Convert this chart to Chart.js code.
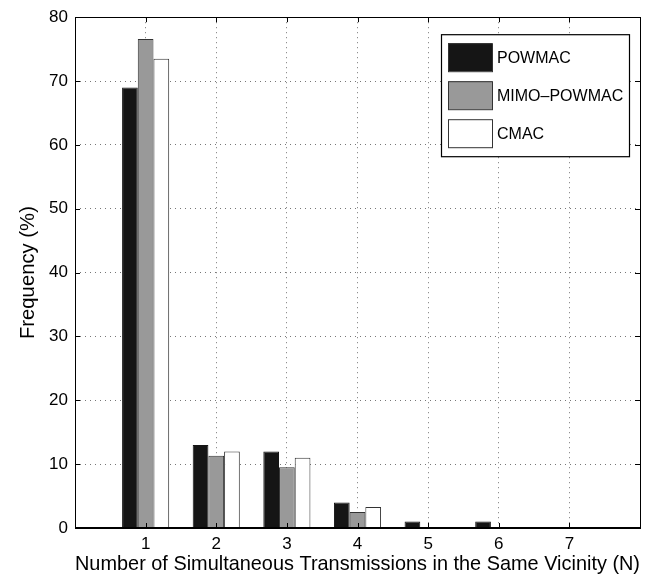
<!DOCTYPE html>
<html>
<head>
<meta charset="utf-8">
<script src="https://cdn.jsdelivr.net/npm/chart.js@4.4.1/dist/chart.umd.min.js"></script>
<style>
  body { margin: 0; background: #fff; }
  #wrap { width: 661px; height: 577px; }
</style>
</head>
<body>
<div id="wrap"><canvas id="myChart" width="661" height="577"></canvas></div>
<script>
// N = number of simultaneous transmissions
var categories = [1, 2, 3, 4, 5, 6, 7];
var powmac     = [69, 13, 12, 4, 1, 1, 0];
var mimoPowmac = [76.6, 11.3, 9.5, 2.5, 0, 0, 0];
var cmac       = [73.5, 12, 11, 3.3, 0, 0, 0.1];
var yTicks = [0, 10, 20, 30, 40, 50, 60, 70, 80];

var FONT = '"Liberation Sans", Arial, Helvetica, sans-serif';

function points(values) {
  return categories.map(function(c, i) { return { x: c, y: values[i] }; });
}

// box around the axes + inward tick marks (matlab style)
var boxPlugin = {
  id: 'box',
  afterDatasetsDraw: function(chart) {
    var ctx = chart.ctx, a = chart.chartArea;
    var xs = chart.scales.x, ys = chart.scales.y;
    ctx.save();
    ctx.strokeStyle = '#000';
    ctx.lineWidth = 1;
    ctx.beginPath();
    categories.forEach(function(c) {
      var px = Math.round(xs.getPixelForValue(c)) + 0.5;
      ctx.moveTo(px, a.bottom); ctx.lineTo(px, a.bottom - 5);
      ctx.moveTo(px, a.top); ctx.lineTo(px, a.top + 5);
    });
    yTicks.forEach(function(v) {
      var py = Math.round(ys.getPixelForValue(v)) + 0.5;
      ctx.moveTo(a.left, py); ctx.lineTo(a.left + 5, py);
      ctx.moveTo(a.right, py); ctx.lineTo(a.right - 5, py);
    });
    ctx.stroke();
    ctx.strokeRect(Math.round(a.left) + 0.5, Math.round(a.top) + 0.5,
                   Math.round(a.right - a.left), Math.round(a.bottom - a.top));
    // slightly heavier baseline, like the original
    ctx.beginPath();
    ctx.lineWidth = 2;
    ctx.moveTo(a.left, Math.round(a.bottom));
    ctx.lineTo(a.right, Math.round(a.bottom));
    ctx.stroke();
    ctx.restore();
  }
};

// legend drawn inside the plot, top right
var legendPlugin = {
  id: 'boxLegend',
  afterDraw: function(chart) {
    var ctx = chart.ctx, a = chart.chartArea;
    var x0 = a.right - 199, y0 = a.top + 17, w = 188, h = 122;
    ctx.save();
    ctx.fillStyle = '#fff';
    ctx.fillRect(x0, y0, w, h);
    ctx.strokeStyle = '#000';
    ctx.lineWidth = 1.2;
    ctx.strokeRect(x0 + 0.5, y0 + 0.5, w, h);
    ctx.font = '16px ' + FONT;
    ctx.textBaseline = 'middle';
    chart.data.datasets.forEach(function(ds, i) {
      var cy = y0 + 23 + i * 38;
      ctx.fillStyle = ds.backgroundColor;
      ctx.fillRect(x0 + 7, cy - 14, 44, 28);
      ctx.strokeStyle = '#333';
      ctx.lineWidth = 1;
      ctx.strokeRect(x0 + 7.5, cy - 13.5, 44, 28);
      ctx.fillStyle = '#000';
      ctx.fillText(ds.label, x0 + 56, cy + 1);
    });
    ctx.restore();
  }
};

var ctx = document.getElementById('myChart').getContext('2d');
var chart = new Chart(ctx, {
  type: 'bar',
  data: {
    datasets: [{
      label: 'POWMAC',
      data: points(powmac),
      backgroundColor: '#151515',
      borderColor: '#151515',
      borderWidth: 1
    }, {
      label: 'MIMO\u2013POWMAC',
      data: points(mimoPowmac),
      backgroundColor: '#999999',
      borderColor: '#333333',
      borderWidth: 1
    }, {
      label: 'CMAC',
      data: points(cmac),
      backgroundColor: '#ffffff',
      borderColor: '#333333',
      borderWidth: 1
    }]
  },
  options: {
    responsive: false,
    animation: false,
    layout: { padding: { top: 15, right: 21, left: 0, bottom: 0 } },
    datasets: { bar: { categoryPercentage: 0.667, barPercentage: 1.0 } },
    plugins: { legend: { display: false }, tooltip: { enabled: false } },
    scales: {
      x: {
        type: 'linear',
        min: 0,
        max: 8,
        offset: false,
        afterFit: function(s) { s.height = 49; },
        grid: {
          offset: false,
          color: '#777',
          lineWidth: 1,
          drawTicks: false
        },
        border: { display: false, dash: [1, 4] },
        ticks: {
          stepSize: 1,
          padding: 6,
          color: '#000',
          font: { family: FONT, size: 17 },
          callback: function(v) { return (v >= 1 && v <= 7) ? String(v) : ''; }
        },
        title: {
          display: true,
          text: 'Number of Simultaneous Transmissions in the Same Vicinity (N)',
          color: '#000',
          font: { family: FONT, size: 20.3 },
          padding: { top: 0, bottom: 0 }
        }
      },
      y: {
        min: 0,
        max: 80,
        afterFit: function(s) { s.width = 75; },
        grid: {
          color: '#777',
          lineWidth: 1,
          drawTicks: false
        },
        border: { display: false, dash: [1, 4] },
        ticks: {
          stepSize: 10,
          padding: 7,
          color: '#000',
          font: { family: FONT, size: 17 }
        },
        title: {
          display: true,
          text: 'Frequency (%)',
          color: '#000',
          font: { family: FONT, size: 20.3 },
          padding: { top: 16, bottom: 0 }
        }
      }
    }
  },
  plugins: [boxPlugin, legendPlugin]
});
</script>
</body>
</html>
